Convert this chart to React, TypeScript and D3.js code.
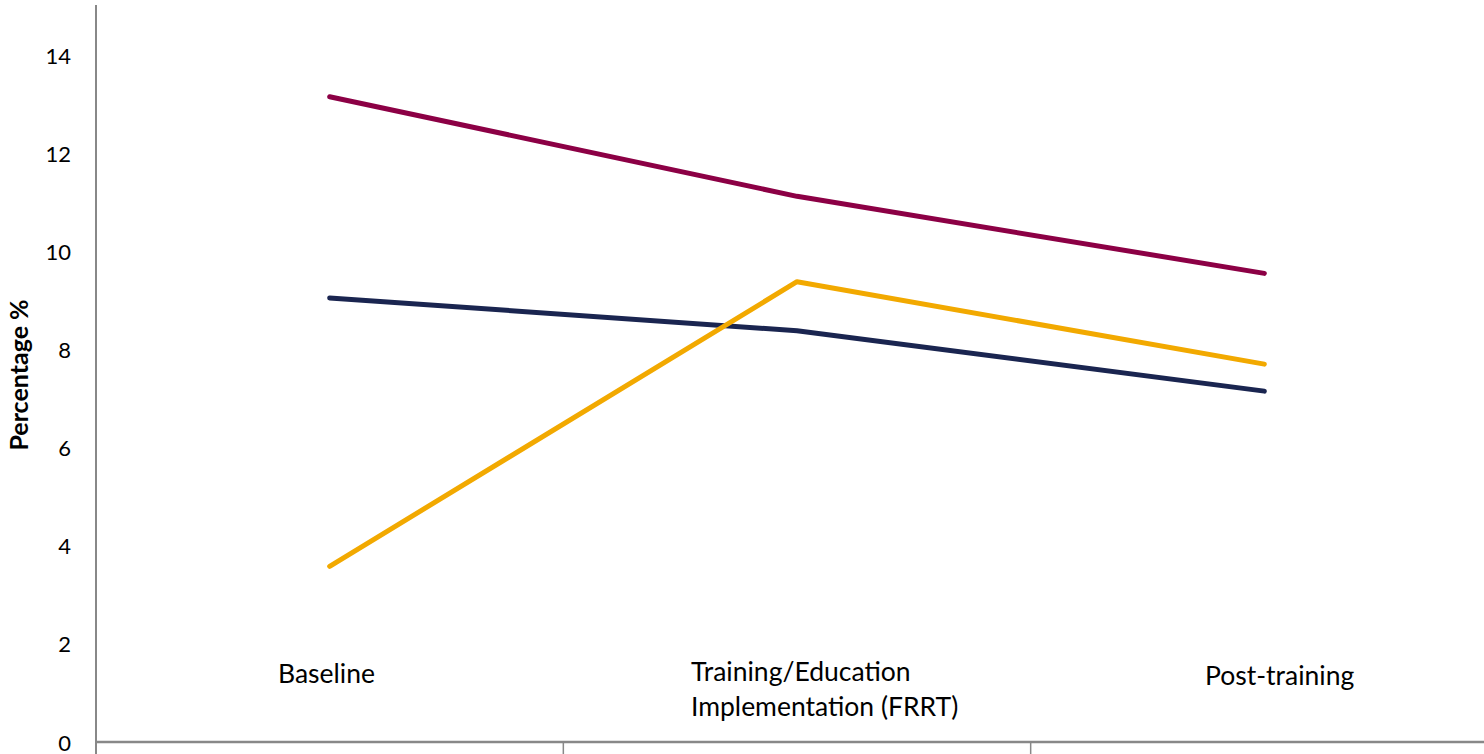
import React from "react";
import * as d3 from "d3";

const categories = ["Baseline", "Training/Education Implementation (FRRT)", "Post-training"];
const categoryLines = [["Baseline"], ["Training/Education", "Implementation (FRRT)"], ["Post-training"]];
const seriesMaroon = [13.15, 11.12, 9.55];
const seriesNavy = [9.05, 8.38, 7.15];
const seriesOrange = [3.58, 9.38, 7.7];
const yTicks = [0, 2, 4, 6, 8, 10, 12, 14];

const series = [
  { name: "A", values: seriesMaroon, color: "#8C0045" },
  { name: "B", values: seriesNavy, color: "#1A2550" },
  { name: "C", values: seriesOrange, color: "#F2A900" },
];

const W = 1484;
const H = 754;
const left = 96;
const right = 1498;
const zeroY = 742;
const fourteenY = 55;

export default function App() {
  const x = d3.scaleBand<string>().domain(categories).range([left, right]).padding(0);
  const y = d3.scaleLinear().domain([0, 14]).range([zeroY, fourteenY]);
  const line = d3
    .line<number>()
    .x((_, i) => (x(categories[i]) as number) + x.bandwidth() / 2)
    .y((d) => y(d));
  const font = "Lato, 'Open Sans', sans-serif";
  const labelY = [673, 671, 675];
  const labelX = [278, 691, 1205];

  return (
    <div style={{ position: "fixed", left: 0, top: 0 }}>
      <svg width={W} height={H} style={{ display: "block", background: "#fff" }}>
        {/* y axis */}
        <line x1={left} x2={left} y1={5} y2={H} stroke="#888" strokeWidth={2} />
        {yTicks.map((t) => (
          <text
            key={t}
            x={71}
            y={y(t)}
            textAnchor="end"
            dominantBaseline="central"
            fontFamily={font}
            fontSize={22}
            fill="#000"
          >
            {t}
          </text>
        ))}
        <text
          transform={`translate(18,375) rotate(-90)`}
          textAnchor="middle"
          dominantBaseline="central"
          fontFamily={font}
          fontSize={25}
          fontWeight="bold"
          fill="#000"
        >
          Percentage %
        </text>
        {/* x axis */}
        <line x1={left} x2={W} y1={zeroY} y2={zeroY} stroke="#888" strokeWidth={2.5} />
        {categories.map((c, i) =>
          i === 0 ? null : (
            <line
              key={c}
              x1={x(c) as number}
              x2={x(c) as number}
              y1={zeroY}
              y2={H}
              stroke="#888"
              strokeWidth={1.5}
            />
          )
        )}
        {/* lines */}
        {series.map((s) => (
          <path
            key={s.name}
            d={line(s.values) || ""}
            fill="none"
            stroke={s.color}
            strokeWidth={5}
            strokeLinecap="round"
            strokeLinejoin="round"
          />
        ))}
        {/* category labels */}
        {categoryLines.map((lines, i) => (
          <text
            key={i}
            x={labelX[i]}
            y={labelY[i]}
            dominantBaseline="central"
            fontFamily={font}
            fontSize={26.5}
            fill="#000"
          >
            {lines.map((l, j) => (
              <tspan key={j} x={labelX[i]} dy={j === 0 ? 0 : 35}>
                {l}
              </tspan>
            ))}
          </text>
        ))}
      </svg>
    </div>
  );
}
